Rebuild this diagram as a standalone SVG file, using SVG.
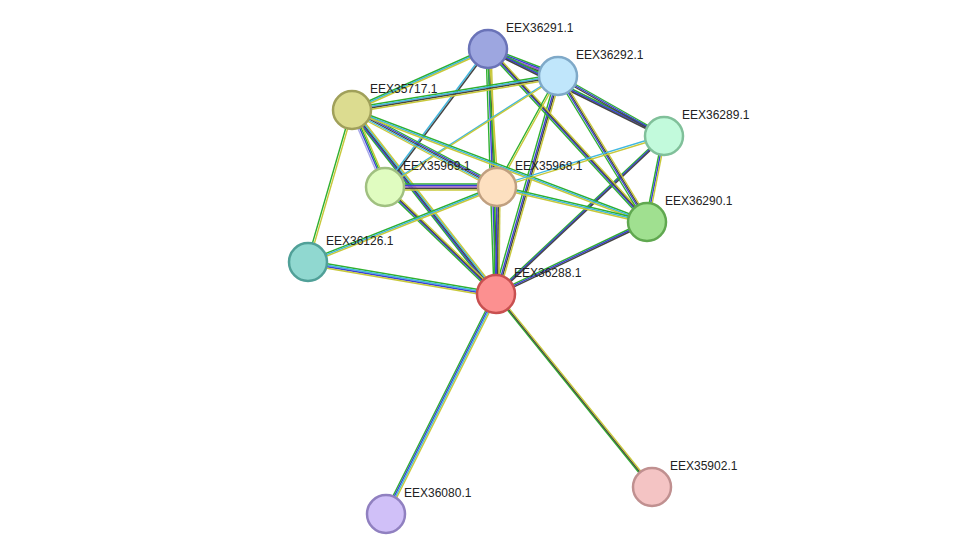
<svg xmlns="http://www.w3.org/2000/svg" width="976" height="560" viewBox="0 0 976 560">
<style>
line{stroke-width:1.4;fill:none}
.g{stroke:#2fb02f}.b{stroke:#3a40d8}.k{stroke:#444}.y{stroke:#c8c83a}.c{stroke:#40b8e0}.p{stroke:#9a5ac8}.l{stroke:#a8a8e8}
circle{stroke-width:2.5}
text{font-family:"Liberation Sans",Arial,sans-serif;font-size:12px;fill:#222}
</style>
<rect width="976" height="560" fill="#fff"/>
<g id="edges">
<g transform="translate(-2,0)"><line class="g" x1="496" y1="294" x2="488" y2="49"/></g><g transform="translate(0,0)"><line class="b" x1="496" y1="294" x2="488" y2="49"/></g><g transform="translate(1.5,0)"><line class="k" x1="496" y1="294" x2="488" y2="49"/></g><g transform="translate(3,0)"><line class="y" x1="496" y1="294" x2="488" y2="49"/></g>
<g transform="translate(-2,0)"><line class="g" x1="496" y1="294" x2="558" y2="76"/></g><line class="b" x1="496" y1="294" x2="558" y2="76"/><g transform="translate(1.5,0)"><line class="k" x1="496" y1="294" x2="558" y2="76"/></g><g transform="translate(3,0)"><line class="y" x1="496" y1="294" x2="558" y2="76"/></g>
<g transform="translate(-3,0)"><line class="g" x1="496" y1="294" x2="352" y2="110"/></g><g transform="translate(-1.5,0)"><line class="b" x1="496" y1="294" x2="352" y2="110"/></g><line class="k" x1="496" y1="294" x2="352" y2="110"/><g transform="translate(1.5,0)"><line class="c" x1="496" y1="294" x2="352" y2="110"/></g><g transform="translate(3,0)"><line class="y" x1="496" y1="294" x2="352" y2="110"/></g>
<g transform="translate(-2,0)"><line class="g" x1="496" y1="294" x2="385" y2="187"/></g><line class="b" x1="496" y1="294" x2="385" y2="187"/><g transform="translate(1.5,0)"><line class="k" x1="496" y1="294" x2="385" y2="187"/></g><g transform="translate(3,0)"><line class="y" x1="496" y1="294" x2="385" y2="187"/></g>
<g transform="translate(-2,0)"><line class="g" x1="496" y1="294" x2="497" y2="187"/></g><line class="b" x1="496" y1="294" x2="497" y2="187"/><g transform="translate(1.5,0)"><line class="k" x1="496" y1="294" x2="497" y2="187"/></g><g transform="translate(3,0)"><line class="y" x1="496" y1="294" x2="497" y2="187"/></g>
<g transform="translate(0,-1.5)"><line class="g" x1="496" y1="294" x2="647" y2="222"/></g><line class="b" x1="496" y1="294" x2="647" y2="222"/><g transform="translate(0,1.5)"><line class="k" x1="496" y1="294" x2="647" y2="222"/></g>
<g transform="translate(0,-1.5)"><line class="g" x1="496" y1="294" x2="664" y2="136"/></g><line class="b" x1="496" y1="294" x2="664" y2="136"/><g transform="translate(0,1.5)"><line class="k" x1="496" y1="294" x2="664" y2="136"/></g>
<g transform="translate(0,-1.5)"><line class="g" x1="496" y1="294" x2="308" y2="262"/></g><line class="c" x1="496" y1="294" x2="308" y2="262"/><g transform="translate(0,1.5)"><line class="b" x1="496" y1="294" x2="308" y2="262"/></g><g transform="translate(0,3)"><line class="y" x1="496" y1="294" x2="308" y2="262"/></g>
<g transform="translate(-2,0)"><line class="g" x1="496" y1="294" x2="386" y2="514"/></g><g transform="translate(-0.5,0)"><line class="b" x1="496" y1="294" x2="386" y2="514"/></g><g transform="translate(1,0)"><line class="c" x1="496" y1="294" x2="386" y2="514"/></g><g transform="translate(2.5,0)"><line class="y" x1="496" y1="294" x2="386" y2="514"/></g>
<g transform="translate(-1.5,0)"><line class="g" x1="496" y1="294" x2="652" y2="487"/></g><line class="k" x1="496" y1="294" x2="652" y2="487"/><g transform="translate(1.5,0)"><line class="y" x1="496" y1="294" x2="652" y2="487"/></g>
<g transform="translate(0,-2)"><line class="g" x1="488" y1="49" x2="558" y2="76"/></g><g transform="translate(0,-0.5)"><line class="b" x1="488" y1="49" x2="558" y2="76"/></g><g transform="translate(0,1)"><line class="p" x1="488" y1="49" x2="558" y2="76"/></g><g transform="translate(0,2.5)"><line class="k" x1="488" y1="49" x2="558" y2="76"/></g>
<g transform="translate(0,-1.5)"><line class="g" x1="488" y1="49" x2="352" y2="110"/></g><line class="c" x1="488" y1="49" x2="352" y2="110"/><g transform="translate(0,1.5)"><line class="y" x1="488" y1="49" x2="352" y2="110"/></g>
<g transform="translate(-1,0)"><line class="g" x1="488" y1="49" x2="497" y2="187"/></g><g transform="translate(1,0)"><line class="y" x1="488" y1="49" x2="497" y2="187"/></g>
<g transform="translate(-1,0)"><line class="c" x1="488" y1="49" x2="385" y2="187"/></g><g transform="translate(1,0)"><line class="k" x1="488" y1="49" x2="385" y2="187"/></g>
<g transform="translate(0,-1.5)"><line class="g" x1="488" y1="49" x2="664" y2="136"/></g><line class="b" x1="488" y1="49" x2="664" y2="136"/><g transform="translate(0,1.5)"><line class="k" x1="488" y1="49" x2="664" y2="136"/></g>
<g transform="translate(-2,0)"><line class="g" x1="488" y1="49" x2="647" y2="222"/></g><line class="b" x1="488" y1="49" x2="647" y2="222"/><g transform="translate(1.5,0)"><line class="k" x1="488" y1="49" x2="647" y2="222"/></g><g transform="translate(3,0)"><line class="y" x1="488" y1="49" x2="647" y2="222"/></g>
<g transform="translate(0,-2)"><line class="g" x1="558" y1="76" x2="352" y2="110"/></g><g transform="translate(0,-0.5)"><line class="c" x1="558" y1="76" x2="352" y2="110"/></g><g transform="translate(0,1)"><line class="k" x1="558" y1="76" x2="352" y2="110"/></g><g transform="translate(0,2.5)"><line class="y" x1="558" y1="76" x2="352" y2="110"/></g>
<g transform="translate(-1,0)"><line class="g" x1="558" y1="76" x2="497" y2="187"/></g><g transform="translate(1,0)"><line class="y" x1="558" y1="76" x2="497" y2="187"/></g>
<g transform="translate(-1,0)"><line class="c" x1="558" y1="76" x2="385" y2="187"/></g><g transform="translate(1,0)"><line class="y" x1="558" y1="76" x2="385" y2="187"/></g>
<g transform="translate(0,-1.5)"><line class="g" x1="558" y1="76" x2="664" y2="136"/></g><line class="b" x1="558" y1="76" x2="664" y2="136"/><g transform="translate(0,1.5)"><line class="k" x1="558" y1="76" x2="664" y2="136"/></g>
<g transform="translate(-2,0)"><line class="g" x1="558" y1="76" x2="647" y2="222"/></g><line class="b" x1="558" y1="76" x2="647" y2="222"/><g transform="translate(1.5,0)"><line class="k" x1="558" y1="76" x2="647" y2="222"/></g><g transform="translate(3,0)"><line class="y" x1="558" y1="76" x2="647" y2="222"/></g>
<g transform="translate(-2,0)"><line class="l" x1="352" y1="110" x2="385" y2="187"/></g><line class="b" x1="352" y1="110" x2="385" y2="187"/><g transform="translate(1.5,0)"><line class="g" x1="352" y1="110" x2="385" y2="187"/></g><g transform="translate(3,0)"><line class="y" x1="352" y1="110" x2="385" y2="187"/></g>
<g transform="translate(0,-3)"><line class="g" x1="352" y1="110" x2="497" y2="187"/></g><g transform="translate(0,-1.5)"><line class="b" x1="352" y1="110" x2="497" y2="187"/></g><line class="k" x1="352" y1="110" x2="497" y2="187"/><g transform="translate(0,1.5)"><line class="c" x1="352" y1="110" x2="497" y2="187"/></g><g transform="translate(0,3)"><line class="y" x1="352" y1="110" x2="497" y2="187"/></g>
<g transform="translate(0,-1.5)"><line class="g" x1="352" y1="110" x2="647" y2="222"/></g><line class="c" x1="352" y1="110" x2="647" y2="222"/><g transform="translate(0,1.5)"><line class="y" x1="352" y1="110" x2="647" y2="222"/></g>
<g transform="translate(-1,0)"><line class="g" x1="352" y1="110" x2="308" y2="262"/></g><g transform="translate(1,0)"><line class="y" x1="352" y1="110" x2="308" y2="262"/></g>
<g transform="translate(0,-3)"><line class="g" x1="385" y1="187" x2="497" y2="187"/></g><g transform="translate(0,-1.5)"><line class="b" x1="385" y1="187" x2="497" y2="187"/></g><line class="p" x1="385" y1="187" x2="497" y2="187"/><g transform="translate(0,1.5)"><line class="k" x1="385" y1="187" x2="497" y2="187"/></g><g transform="translate(0,3)"><line class="y" x1="385" y1="187" x2="497" y2="187"/></g>
<g transform="translate(0,-1.5)"><line class="g" x1="497" y1="187" x2="647" y2="222"/></g><line class="c" x1="497" y1="187" x2="647" y2="222"/><g transform="translate(0,1.5)"><line class="y" x1="497" y1="187" x2="647" y2="222"/></g>
<g transform="translate(0,-1)"><line class="c" x1="497" y1="187" x2="664" y2="136"/></g><g transform="translate(0,1)"><line class="y" x1="497" y1="187" x2="664" y2="136"/></g>
<g transform="translate(0,-1.5)"><line class="g" x1="497" y1="187" x2="308" y2="262"/></g><line class="c" x1="497" y1="187" x2="308" y2="262"/><g transform="translate(0,1.5)"><line class="y" x1="497" y1="187" x2="308" y2="262"/></g>
<g transform="translate(-1.5,0)"><line class="g" x1="664" y1="136" x2="647" y2="222"/></g><line class="b" x1="664" y1="136" x2="647" y2="222"/><g transform="translate(1.5,0)"><line class="y" x1="664" y1="136" x2="647" y2="222"/></g>
</g>
<g id="n36291"><circle cx="488" cy="49" r="19" fill="#9da6e0" stroke="#6a73b8"/><text x="506" y="32">EEX36291.1</text></g>
<g id="n36292"><circle cx="558" cy="76" r="19" fill="#c0e6fb" stroke="#7fa9c8"/><text x="576" y="59">EEX36292.1</text></g>
<g id="n35717"><circle cx="352" cy="110" r="19" fill="#dcdc90" stroke="#a0a05a"/><text x="370" y="93">EEX35717.1</text></g>
<g id="n36289"><circle cx="664" cy="136" r="19" fill="#c2fadc" stroke="#80c09a"/><text x="682" y="119">EEX36289.1</text></g>
<g id="n35969"><circle cx="385" cy="187" r="19" fill="#e0fcc0" stroke="#a0c080"/><text x="403" y="170">EEX35969.1</text></g>
<g id="n35968"><circle cx="497" cy="187" r="19" fill="#fde0c0" stroke="#c0a080"/><text x="515" y="170">EEX35968.1</text></g>
<g id="n36290"><circle cx="647" cy="222" r="19" fill="#a0e090" stroke="#60a850"/><text x="665" y="205">EEX36290.1</text></g>
<g id="n36126"><circle cx="308" cy="262" r="19" fill="#90d8d0" stroke="#50a098"/><text x="326" y="245">EEX36126.1</text></g>
<g id="n36288"><circle cx="496" cy="294" r="19" fill="#fc9090" stroke="#c85050"/><text x="514" y="277">EEX36288.1</text></g>
<g id="n36080"><circle cx="386" cy="514" r="19" fill="#d0c0f8" stroke="#9080c0"/><text x="404" y="497">EEX36080.1</text></g>
<g id="n35902"><circle cx="652" cy="487" r="19" fill="#f4c4c4" stroke="#c09090"/><text x="670" y="470">EEX35902.1</text></g>
</svg>
